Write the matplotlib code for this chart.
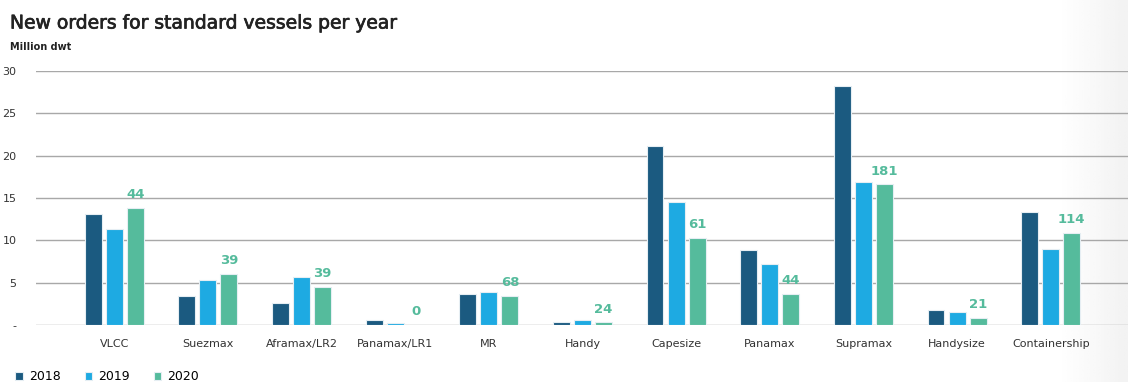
import numpy as np
import matplotlib.pyplot as plt
import matplotlib.patheffects as pe

categories = ['VLCC', 'Suezmax', 'Aframax/LR2', 'Panamax/LR1', 'MR', 'Handy',
              'Capesize', 'Panamax', 'Supramax', 'Handysize', 'Containership']
years = ['2018', '2019', '2020']
v2018 = [13.1, 3.4, 2.6, 0.6, 3.7, 0.4, 21.2, 8.9, 28.2, 1.8, 13.4]
v2019 = [11.3, 5.3, 5.7, 0.25, 3.9, 0.6, 14.5, 7.2, 16.9, 1.5, 9.0]
v2020 = [13.8, 6.0, 4.5, 0.05, 3.4, 0.3, 10.3, 3.7, 16.6, 0.8, 10.9]
counts_2020 = ['44', '39', '39', '0', '68', '24', '61', '44', '181', '21', '114']
yticks = [0, 5, 10, 15, 20, 25, 30]
yticklabels = ['-', '5', '10', '15', '20', '25', '30']

colors = ['#1b5a80', '#1eaae2', '#55bb9c']
font = 'DejaVu Sans'

fig = plt.figure(figsize=(11.28, 3.82), dpi=100)

# light grey fade on the right edge
bg = fig.add_axes([0, 0, 1, 1], zorder=-10)
xs = np.linspace(0, 1, 400)
shade = np.clip((xs - 0.94) / 0.06, 0, 1)
grad = 1 - 0.05 * np.vstack([shade, shade])
bg.imshow(grad, cmap='gray', vmin=0, vmax=1, aspect='auto', extent=[0, 1, 0, 1])
bg.axis('off')

ax = fig.add_axes([36 / 1128, 57 / 382, 1 - 36 / 1128, 254 / 382])
ax.patch.set_alpha(0)

indx = np.arange(len(categories))
bar_width = 0.18
off = 0.225
series = [v2018, v2019, v2020]
for i, (vals, c, yr) in enumerate(zip(series, colors, years)):
    ax.bar(indx + (i - 1) * off, vals, bar_width, color=c, label=yr,
           edgecolor='#e6eef3', linewidth=0.8, zorder=3)

for x, v, t in zip(indx, v2020, counts_2020):
    ax.annotate(t, xy=(x + off, v), xytext=(0, 5), textcoords='offset points',
                ha='center', va='bottom', color='#55bb9c', fontweight='bold',
                fontsize=9.5, family=font)

ax.set_xlim(-0.835, 10.825)
ax.set_ylim(0, 30)
ax.set_yticks(yticks)
ax.set_yticklabels(yticklabels, family=font, fontsize=8, color='#333333')
ax.set_xticks(indx)
ax.set_xticklabels(categories, family=font, fontsize=8, color='#333333')
ax.tick_params(axis='both', length=0)
ax.tick_params(axis='y', pad=14)
ax.tick_params(axis='x', pad=10)
ax.yaxis.grid(True, color='#a8a8a8', linewidth=1)
ax.set_axisbelow(True)
for s in ax.spines.values():
    s.set_visible(False)

fig.text(10 / 1128, 1 - 23 / 382, 'New orders for standard vessels per year',
         family=font, fontsize=13.5, color='#222222', va='center',
         path_effects=[pe.withStroke(linewidth=0.5, foreground='#222222')])
fig.text(10 / 1128, 1 - 47 / 382, 'Million dwt', family=font, fontsize=7,
         fontweight='bold', color='#222222', va='center')

handles, labels = ax.get_legend_handles_labels()
fig.legend(handles, labels, loc='center left', bbox_to_anchor=(4 / 1128, 1 - 377 / 382),
           ncol=3, frameon=False, handlelength=0.6, handleheight=0.6,
           columnspacing=1.9, handletextpad=0.5,
           prop={'family': font, 'size': 9})

fig.savefig('out.png', dpi=100)
